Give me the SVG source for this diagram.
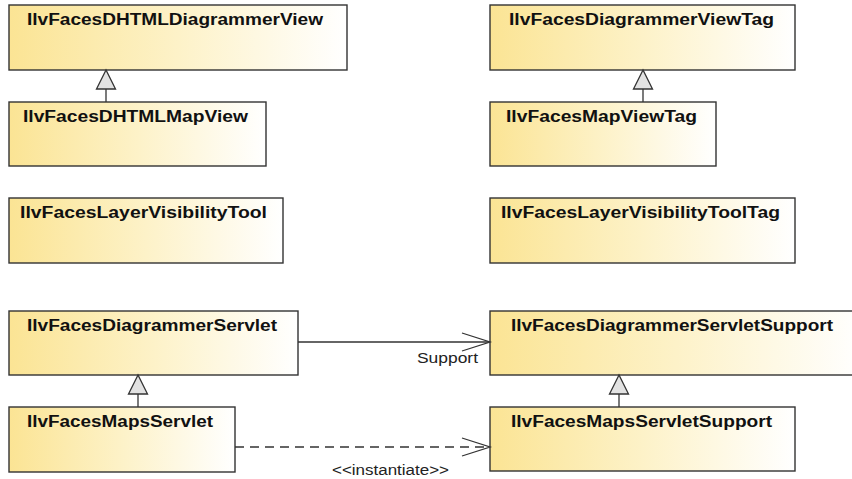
<svg xmlns="http://www.w3.org/2000/svg" width="852" height="479" viewBox="0 0 852 479">
  <defs>
    <linearGradient id="classFill" x1="0" y1="0" x2="1" y2="0">
      <stop offset="0" stop-color="#fbe494"/>
      <stop offset="0.5" stop-color="#fdf2c8"/>
      <stop offset="1" stop-color="#ffffff"/>
    </linearGradient>
    <marker id="openArrow" markerUnits="userSpaceOnUse" markerWidth="32" markerHeight="24" refX="29" refY="10" orient="auto">
      <path d="M1,1 L29,10 L1,19" fill="none" stroke="#333" stroke-width="1.3"/>
    </marker>
  </defs>
  <style>
    .box { fill: url(#classFill); stroke: #333; stroke-width: 1.4; }
    .name { font-family: "Liberation Sans", Arial, sans-serif; font-weight: bold; font-size: 16px; fill: #111; text-anchor: middle; }
    .label { font-family: "Liberation Sans", Arial, sans-serif; font-size: 14px; fill: #222; }
    .link { fill: none; stroke: #333; stroke-width: 1.3; }
    .dashed { stroke-dasharray: 9 6; }
    .gen { fill: #e2e2e2; stroke: #333; stroke-width: 1.3; }
  </style>

  <rect width="852" height="479" fill="#ffffff"/>

  <g id="IlvFacesDHTMLDiagrammerView">
    <rect class="box" x="9" y="5" width="338" height="65"/>
    <text class="name" x="175" y="25" textLength="296" lengthAdjust="spacingAndGlyphs">IlvFacesDHTMLDiagrammerView</text>
  </g>
  <g id="IlvFacesDHTMLMapView">
    <rect class="box" x="9" y="102" width="257" height="64"/>
    <text class="name" x="135.5" y="122" textLength="225" lengthAdjust="spacingAndGlyphs">IlvFacesDHTMLMapView</text>
  </g>
  <g id="IlvFacesDiagrammerViewTag">
    <rect class="box" x="490" y="5" width="305" height="65"/>
    <text class="name" x="641.5" y="25" textLength="265" lengthAdjust="spacingAndGlyphs">IlvFacesDiagrammerViewTag</text>
  </g>
  <g id="IlvFacesMapViewTag">
    <rect class="box" x="490" y="102" width="226" height="64"/>
    <text class="name" x="601.5" y="122" textLength="191" lengthAdjust="spacingAndGlyphs">IlvFacesMapViewTag</text>
  </g>
  <g id="IlvFacesLayerVisibilityTool">
    <rect class="box" x="9" y="198" width="274" height="65"/>
    <text class="name" x="143.5" y="218" textLength="247" lengthAdjust="spacingAndGlyphs">IlvFacesLayerVisibilityTool</text>
  </g>
  <g id="IlvFacesLayerVisibilityToolTag">
    <rect class="box" x="490" y="198" width="305" height="65"/>
    <text class="name" x="640.5" y="218" textLength="279" lengthAdjust="spacingAndGlyphs">IlvFacesLayerVisibilityToolTag</text>
  </g>
  <g id="IlvFacesDiagrammerServlet">
    <rect class="box" x="9" y="311" width="289" height="64"/>
    <text class="name" x="152" y="331" textLength="250" lengthAdjust="spacingAndGlyphs">IlvFacesDiagrammerServlet</text>
  </g>
  <g id="IlvFacesMapsServlet">
    <rect class="box" x="9" y="407" width="226" height="65"/>
    <text class="name" x="120" y="427" textLength="186" lengthAdjust="spacingAndGlyphs">IlvFacesMapsServlet</text>
  </g>
  <g id="IlvFacesDiagrammerServletSupport">
    <rect class="box" x="490" y="311" width="372" height="64"/>
    <text class="name" x="672" y="331" textLength="322" lengthAdjust="spacingAndGlyphs">IlvFacesDiagrammerServletSupport</text>
  </g>
  <g id="IlvFacesMapsServletSupport">
    <rect class="box" x="490" y="407" width="305" height="64"/>
    <text class="name" x="641.5" y="427" textLength="261" lengthAdjust="spacingAndGlyphs">IlvFacesMapsServletSupport</text>
  </g>

  <g id="connectors">
    <!-- generalizations -->
    <line class="link" x1="106" y1="89" x2="106" y2="102"/>
    <polygon class="gen" points="106,70 96.5,89 115.5,89"/>
    <line class="link" x1="643" y1="89" x2="643" y2="102"/>
    <polygon class="gen" points="643,70 633.5,89 652.5,89"/>
    <line class="link" x1="138" y1="394" x2="138" y2="407"/>
    <polygon class="gen" points="138,375 128.5,394 147.5,394"/>
    <line class="link" x1="619" y1="394" x2="619" y2="407"/>
    <polygon class="gen" points="619,375 609.5,394 628.5,394"/>
    <!-- association -->
    <line class="link" x1="298" y1="342" x2="490" y2="342" marker-end="url(#openArrow)"/>
    <text class="label" x="417" y="363" textLength="61" lengthAdjust="spacingAndGlyphs">Support</text>
    <!-- dependency -->
    <line class="link dashed" x1="235" y1="447" x2="490" y2="447" marker-end="url(#openArrow)"/>
    <text class="label" x="332" y="475" textLength="117" lengthAdjust="spacingAndGlyphs">&lt;&lt;instantiate&gt;&gt;</text>
  </g>
</svg>
